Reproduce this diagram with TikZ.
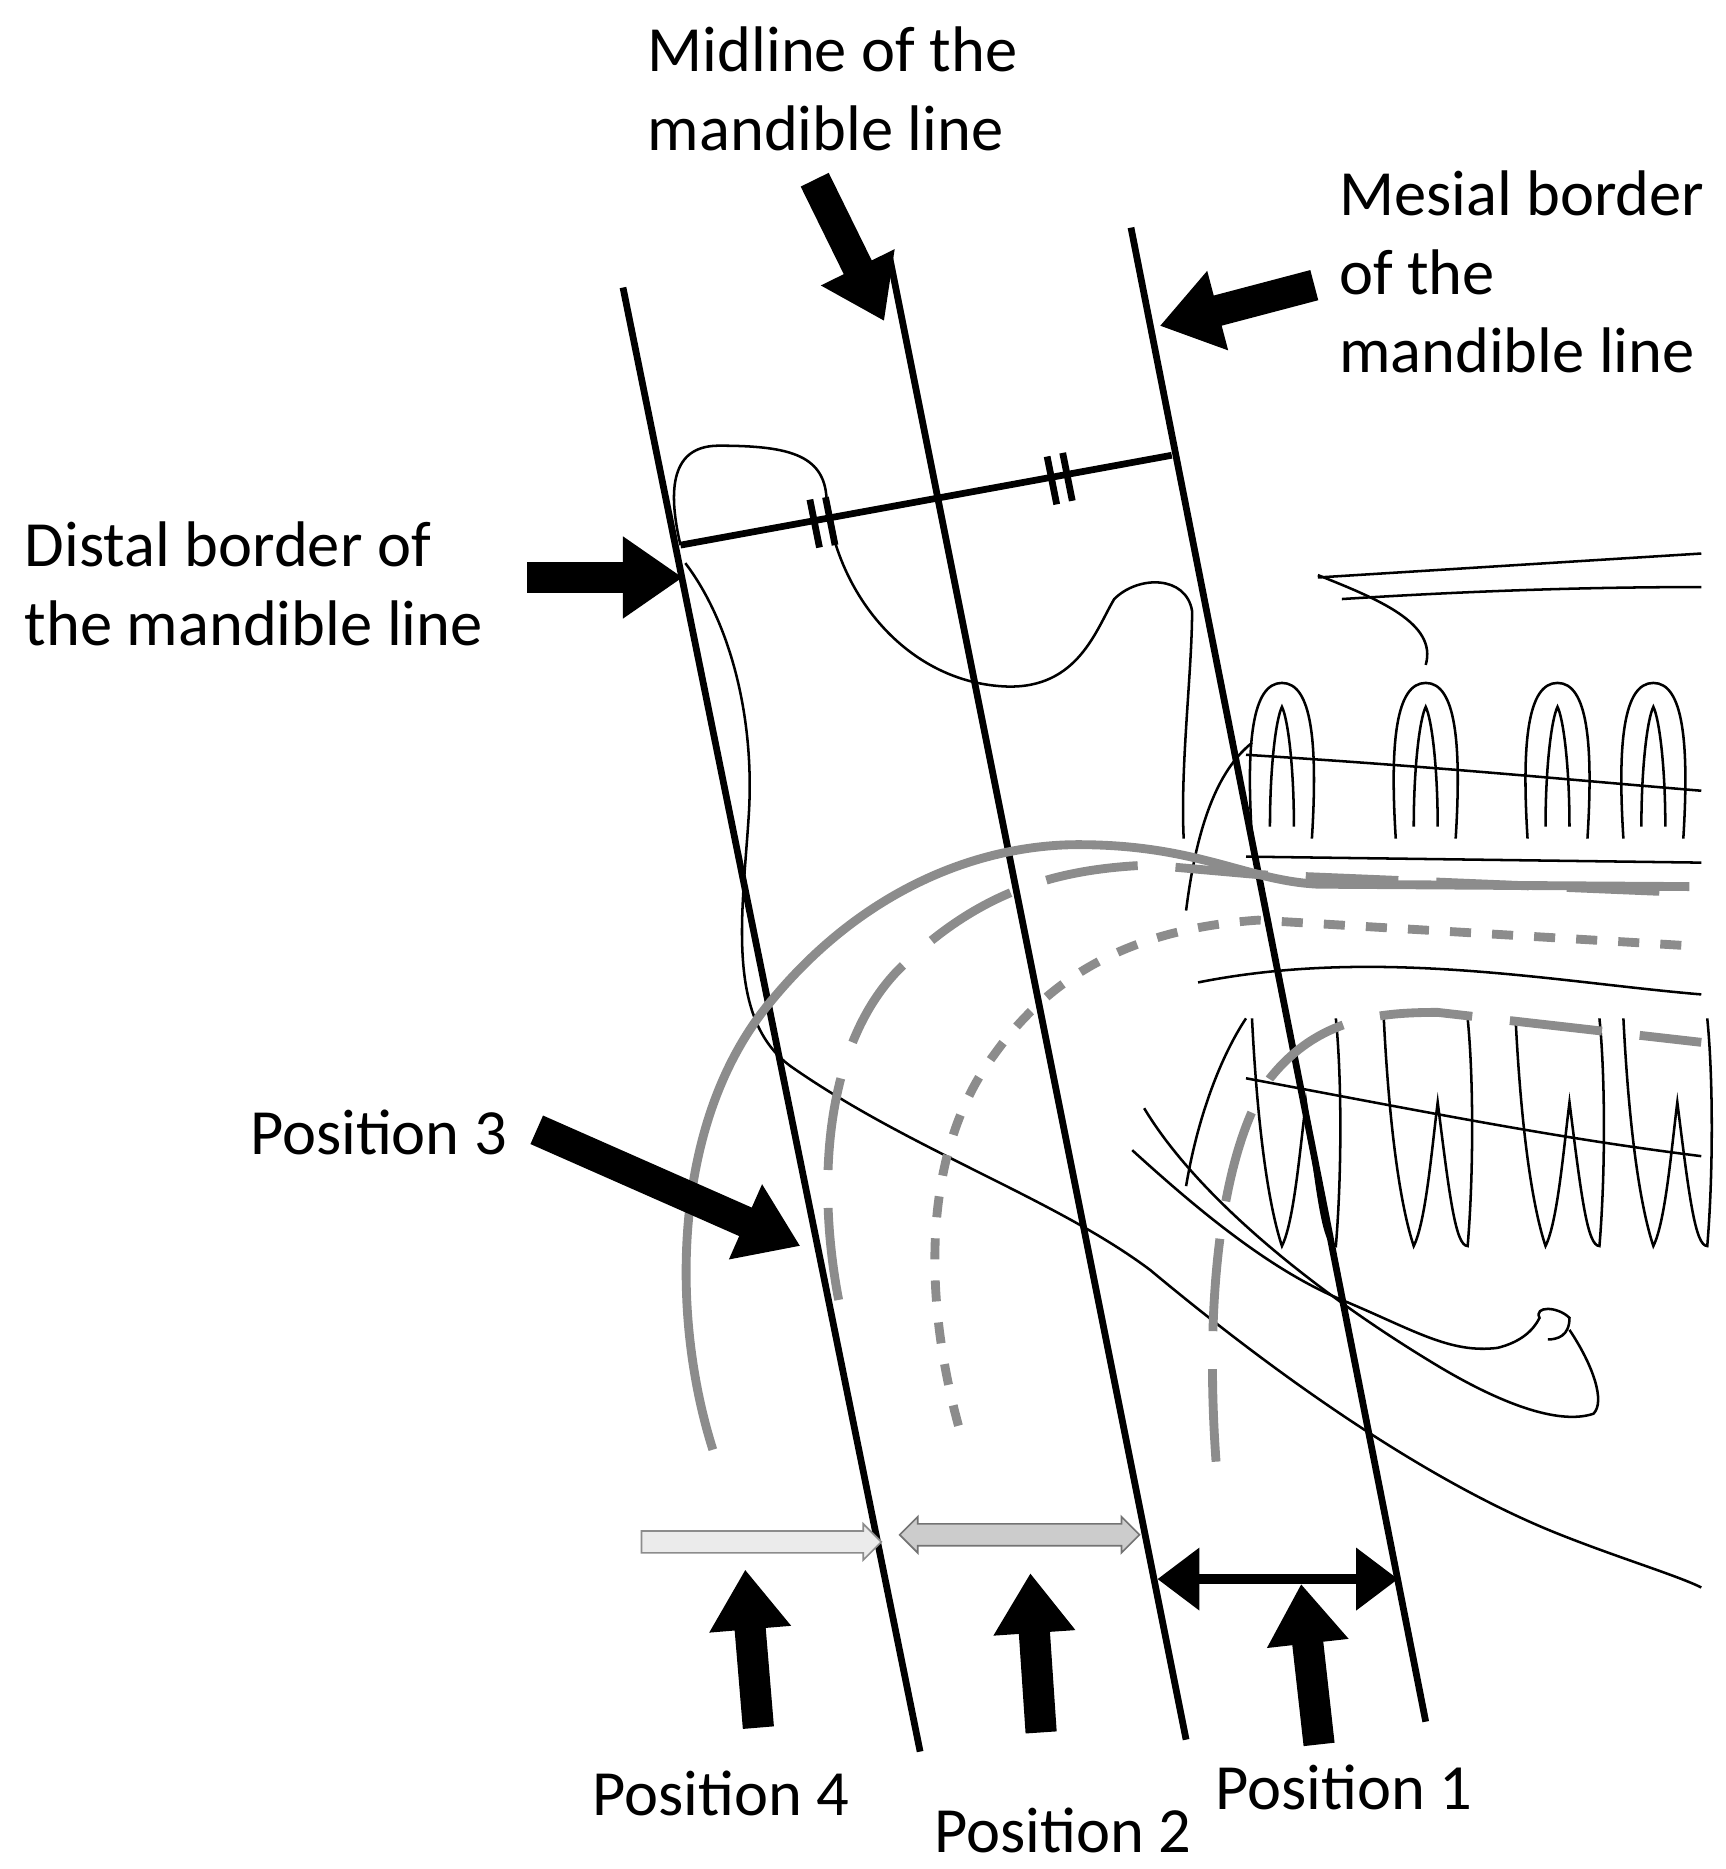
\documentclass[tikz,border=0pt]{standalone}
\usepackage{fontspec}
\setmainfont{Carlito}
\usetikzlibrary{arrows.meta,shapes.arrows}
\begin{document}
\begin{tikzpicture}[x=0.01cm,y=-0.01cm,
  lab/.style={font=\fontsize{15.3}{18.6}\selectfont,align=left,inner sep=0},
  main/.style={line width=1.6pt},
  sk/.style={line width=0.6pt},
  fat/.style={line width=2.6mm,-{Triangle[length=5mm,width=6.5mm]}},
  g/.style={line width=2.1pt,color=black!45},
  gd/.style={g,dash pattern=on 22pt off 9pt},
  gs/.style={g,dash pattern=on 5pt off 5pt}]
\useasboundingbox (0,0) rectangle (1440,1560);
% main lines
\coordinate (d1) at (520,240); \coordinate (d2) at (768,1462);
\coordinate (m1) at (742,212); \coordinate (m2) at (990,1452);
\coordinate (s1) at (944,190); \coordinate (s2) at (1190,1437);
\draw[main] (d1) -- (d2);
\draw[main] (m1) -- (m2);
\draw[main] (s1) -- (s2);
\coordinate (c1) at (568,455); \coordinate (c2) at (978,380);
\draw[main] (c1) -- (c2);
\foreach \x/\y in {680/437,693/435,878/401,891/398}
  \draw[main] (\x-4,\y-20) -- (\x+4,\y+20);
% sketch: mandible
\draw[sk] (568,455) .. controls (555,400) and (565,372) .. (600,372)
  .. controls (660,372) and (690,380) .. (690,420)
  .. controls (700,500) and (760,570) .. (840,573)
  .. controls (900,575) and (915,525) .. (930,500)
  .. controls (950,480) and (990,480) .. (995,510)
  .. controls (995,560) and (985,640) .. (988,700);
\draw[sk] (572,470) .. controls (610,520) and (630,600) .. (625,680)
  .. controls (620,760) and (605,850) .. (660,890)
  .. controls (760,960) and (880,1000) .. (960,1060)
  .. controls (1080,1160) and (1200,1240) .. (1300,1280)
  .. controls (1350,1300) and (1400,1315) .. (1420,1325);
\draw[sk] (945,960) .. controls (1000,1010) and (1060,1060) .. (1120,1085)
  .. controls (1180,1110) and (1210,1130) .. (1250,1125)
  .. controls (1270,1120) and (1280,1110) .. (1285,1100)
  .. controls (1280,1090) and (1300,1090) .. (1310,1100)
  .. controls (1310,1115) and (1300,1118) .. (1292,1118);
\draw[sk] (1310,1110) .. controls (1330,1140) and (1340,1170) .. (1330,1180)
  .. controls (1300,1190) and (1250,1170) .. (1200,1140)
  .. controls (1100,1080) and (1000,1000) .. (955,925);
% sketch: upper teeth / maxilla
\draw[sk] (1100,482) -- (1420,462);
\draw[sk] (1120,500) .. controls (1200,495) and (1300,490) .. (1420,490);
\draw[sk] (1100,480) .. controls (1150,500) and (1200,520) .. (1190,555);
\draw[sk] (1040,630) .. controls (1200,640) and (1300,650) .. (1420,660);
\draw[sk] (1040,715) -- (1420,720);
\foreach \x in {1070,1190,1300,1380}{
  \draw[sk] (\x-25,700) .. controls (\x-30,620) and (\x-25,570) .. (\x,570)
    .. controls (\x+25,570) and (\x+30,620) .. (\x+25,700);
  \draw[sk] (\x-10,690) .. controls (\x-10,640) and (\x-5,600) .. (\x,590)
    .. controls (\x+5,600) and (\x+10,640) .. (\x+10,690);
}
\draw[sk] (990,760) .. controls (1000,680) and (1020,640) .. (1045,620);
% lower teeth
\draw[sk] (1000,820) .. controls (1150,790) and (1300,820) .. (1420,830);
\draw[sk] (1040,900) .. controls (1200,930) and (1300,950) .. (1420,965);
\foreach \x in {1080,1190,1300,1390}{
  \draw[sk] (\x-35,850) .. controls (\x-30,950) and (\x-20,1010) .. (\x-10,1040)
    .. controls (\x,1020) and (\x+5,960) .. (\x+10,920)
    .. controls (\x+20,1000) and (\x+25,1040) .. (\x+35,1040)
    .. controls (\x+40,980) and (\x+40,900) .. (\x+35,850);
}
\draw[sk] (990,990) .. controls (1000,930) and (1020,880) .. (1040,850);
% gray curves
\draw[g] (595,1210) .. controls (560,1100) and (560,940) .. (640,840)
  .. controls (720,740) and (820,705) .. (900,705)
  .. controls (1000,705) and (1040,735) .. (1100,738) -- (1410,740);
\draw[gd] (700,1085) .. controls (680,980) and (690,860) .. (760,800)
  .. controls (820,745) and (880,725) .. (960,722) -- (1050,730) -- (1410,745);
\draw[gs] (800,1190) .. controls (770,1080) and (770,960) .. (830,880)
  .. controls (880,810) and (950,775) .. (1050,768) -- (1420,790);
\draw[gd] (1015,1220) .. controls (1005,1080) and (1020,960) .. (1060,900)
  .. controls (1100,850) and (1150,845) .. (1200,845) -- (1420,870);
% fat arrows
\coordinate (a1) at (680,150); \coordinate (a1e) at (738,268);
\draw[fat] (a1) -- (a1e);
\coordinate (a2) at (1097,238); \coordinate (a2e) at (968,272);
\draw[fat] (a2) -- (a2e);
\coordinate (a3) at (440,482); \coordinate (a3e) at (570,482);
\draw[fat] (a3) -- (a3e);
\coordinate (a4) at (448,943); \coordinate (a4e) at (668,1040);
\draw[fat] (a4) -- (a4e);
\foreach \n/\xa/\ya/\xb/\yb in {p4/633/1442/622/1310,p2/869/1446/860/1313,p1/1101/1456/1086/1322}{
  \coordinate (\n a) at (\xa,\ya); \coordinate (\n b) at (\xb,\yb);
  \draw[fat] (\n a) -- (\n b);}
% horizontal arrows
\node[single arrow,draw=black!45,fill=black!8,minimum height=2cm,minimum width=0.3cm,
  single arrow head extend=0.05cm,inner sep=0.07cm,anchor=center] (h1) at (631,1287) {};
\node[double arrow,draw=black!55,fill=black!20,minimum height=2cm,minimum width=0.3cm,
  double arrow head extend=0.05cm,inner sep=0.07cm] (h2) at (851,1281) {};
\coordinate (h3a) at (966,1318); \coordinate (h3b) at (1167,1318);
\draw[line width=2.5pt,{Triangle[length=3.5mm,width=5mm]}-{Triangle[length=3.5mm,width=5mm]}] (h3a) -- (h3b);
% labels
\node[lab,anchor=north west] (tm) at (540,22) {Midline of the\\mandible line};
\node[lab,anchor=north west] (ts) at (1117,142) {Mesial border\\of the\\mandible line};
\node[lab,anchor=north west] (td) at (20,435) {Distal border of\\the mandible line};
\node[lab,anchor=west] (t3) at (208,945) {Position 3};
\node[lab,anchor=west] (t4) at (494,1497) {Position 4};
\node[lab,anchor=west] (t2) at (779,1528) {Position 2};
\node[lab,anchor=west] (t1) at (1014,1492) {Position 1};
\end{tikzpicture}
\end{document}
